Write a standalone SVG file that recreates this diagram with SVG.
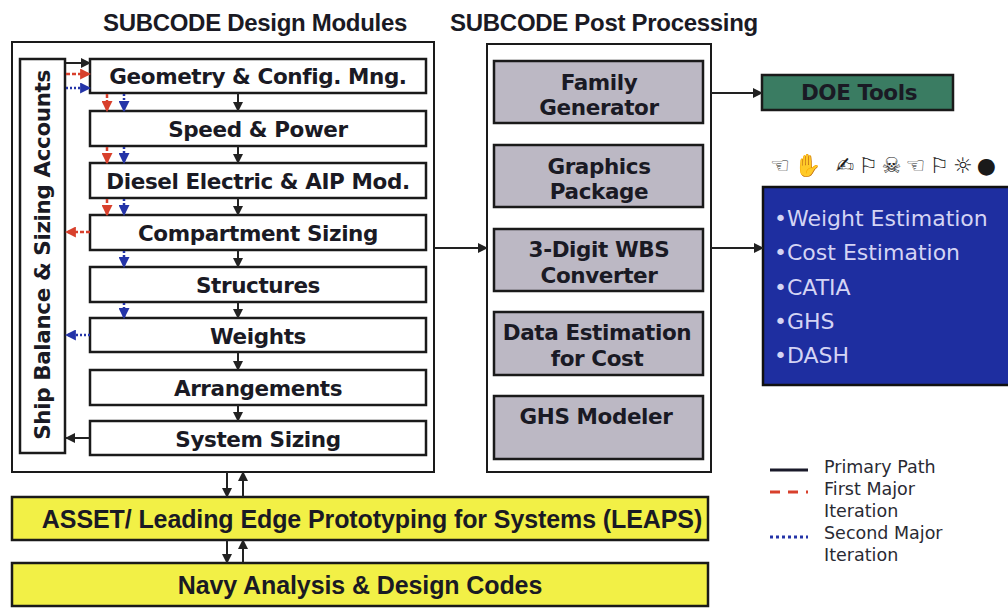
<svg xmlns="http://www.w3.org/2000/svg" width="1008" height="608" viewBox="0 0 1008 608">
<defs>
<marker id="ab" markerUnits="userSpaceOnUse" markerWidth="10" markerHeight="10" viewBox="0 0 10 10" refX="9" refY="5" orient="auto"><path d="M0,0 L10,5 L0,10 Z" fill="#222"/></marker>
<marker id="ar" markerUnits="userSpaceOnUse" markerWidth="11" markerHeight="11" viewBox="0 0 10 10" refX="9" refY="5" orient="auto"><path d="M0,0 L10,5 L0,10 Z" fill="#d8402c"/></marker>
<marker id="au" markerUnits="userSpaceOnUse" markerWidth="11" markerHeight="11" viewBox="0 0 10 10" refX="9" refY="5" orient="auto"><path d="M0,0 L10,5 L0,10 Z" fill="#2434a8"/></marker>
</defs>
<style>
.hdr{font-family:"Liberation Sans",Arial,sans-serif;font-weight:bold;font-size:24px;fill:#1a1a24;text-anchor:middle;letter-spacing:-0.3px}
.mod{fill:#fff;stroke:#1a1a1a;stroke-width:2.5}
.mt{font-family:"DejaVu Sans",Verdana,sans-serif;font-weight:bold;font-size:21.5px;fill:#1a1a24;text-anchor:middle;letter-spacing:-0.4px}
.gray{fill:#bcb8c4;stroke:#1a1a1a;stroke-width:2.5}
.frame{fill:#fff;stroke:#1a1a1a;stroke-width:2}
.yel{fill:#f2f046;stroke:#1a1a1a;stroke-width:2.5}
.yt{font-family:"Liberation Sans",Arial,sans-serif;font-weight:bold;font-size:25px;fill:#1a1a24;text-anchor:middle;letter-spacing:-0.1px}
.bl{stroke:#222;stroke-width:2;fill:none}
.rd{stroke:#d8402c;stroke-width:2.5;fill:none;stroke-dasharray:4 2}
.bu{stroke:#2434a8;stroke-width:2.5;fill:none;stroke-dasharray:2 2}
.lt{font-family:"DejaVu Sans",Verdana,sans-serif;font-size:17.5px;fill:#2a2a33}
.wt{font-family:"DejaVu Sans",Verdana,sans-serif;font-size:22px;fill:#d4d4f4}
</style>

<text class="hdr" x="255" y="31">SUBCODE Design Modules</text>
<text class="hdr" x="604" y="31">SUBCODE Post Processing</text>

<g id="design-frame"><rect class="frame" x="12" y="42" width="422" height="430"/></g>

<g id="ship-balance">
<rect class="mod" x="20" y="59" width="45" height="394"/>
<text class="mt" transform="translate(50,255) rotate(-90)">Ship Balance &amp; Sizing Accounts</text>
</g>

<g id="geometry"><rect class="mod" x="90" y="59" width="336" height="34"/><text class="mt" x="258" y="84">Geometry &amp; Config. Mng.</text></g>
<g id="speed"><rect class="mod" x="90" y="111" width="336" height="35"/><text class="mt" x="258" y="137">Speed &amp; Power</text></g>
<g id="diesel"><rect class="mod" x="90" y="163" width="336" height="35"/><text class="mt" x="258" y="189">Diesel Electric &amp; AIP Mod.</text></g>
<g id="compartment"><rect class="mod" x="90" y="215" width="336" height="35"/><text class="mt" x="258" y="241">Compartment Sizing</text></g>
<g id="structures"><rect class="mod" x="90" y="267" width="336" height="35"/><text class="mt" x="258" y="293">Structures</text></g>
<g id="weights"><rect class="mod" x="90" y="318" width="336" height="34"/><text class="mt" x="258" y="344">Weights</text></g>
<g id="arrangements"><rect class="mod" x="90" y="370" width="336" height="35"/><text class="mt" x="258" y="396">Arrangements</text></g>
<g id="system-sizing"><rect class="mod" x="90" y="421" width="336" height="34"/><text class="mt" x="258" y="447">System Sizing</text></g>

<g id="post-frame"><rect class="frame" x="487" y="44" width="224" height="428"/></g>
<g id="family"><rect class="gray" x="494" y="61" width="209" height="62"/><text class="mt" x="599" y="90">Family</text><text class="mt" x="599" y="115">Generator</text></g>
<g id="graphics"><rect class="gray" x="494" y="145" width="209" height="62"/><text class="mt" x="599" y="174">Graphics</text><text class="mt" x="599" y="199">Package</text></g>
<g id="wbs"><rect class="gray" x="494" y="229" width="209" height="62"/><text class="mt" x="599" y="257">3-Digit WBS</text><text class="mt" x="599" y="283">Converter</text></g>
<g id="data-est"><rect class="gray" x="494" y="312" width="209" height="63"/><text class="mt" x="597" y="340">Data Estimation</text><text class="mt" x="597" y="366">for Cost</text></g>
<g id="ghs"><rect class="gray" x="494" y="396" width="209" height="63"/><text class="mt" x="596" y="424">GHS Modeler</text></g>

<g id="doe"><rect x="762" y="75" width="191" height="35" fill="#3a7c62" stroke="#1a1a1a" stroke-width="2.5"/><text class="mt" x="859" y="100" fill="#14201a">DOE Tools</text></g>

<g id="tools-heading"><text x="770" y="173" font-family="DejaVu Sans,sans-serif" font-size="22" fill="#1a1a1a" letter-spacing="4">☜✋ ✍⚐☠☜⚐☼●</text></g>
<g id="tools"><rect x="763" y="187" width="247" height="198" fill="#1e2ea0" stroke="#111" stroke-width="2.5"/>
<text class="wt" x="774" y="226">•Weight Estimation</text>
<text class="wt" x="774" y="260">•Cost Estimation</text>
<text class="wt" x="774" y="295">•CATIA</text>
<text class="wt" x="774" y="329">•GHS</text>
<text class="wt" x="774" y="363">•DASH</text>
</g>

<g id="asset"><rect class="yel" x="12" y="497" width="696" height="43"/><text class="yt" x="372" y="528">ASSET/ Leading Edge Prototyping for Systems (LEAPS)</text></g>
<g id="navy"><rect class="yel" x="12" y="563" width="696" height="43"/><text class="yt" x="360" y="594">Navy Analysis &amp; Design Codes</text></g>

<g id="connectors">
<line class="bl" x1="238" y1="93" x2="238" y2="111" marker-end="url(#ab)"/>
<line class="bl" x1="238" y1="146" x2="238" y2="163" marker-end="url(#ab)"/>
<line class="bl" x1="238" y1="198" x2="238" y2="215" marker-end="url(#ab)"/>
<line class="bl" x1="238" y1="250" x2="238" y2="267" marker-end="url(#ab)"/>
<line class="bl" x1="238" y1="302" x2="238" y2="318" marker-end="url(#ab)"/>
<line class="bl" x1="238" y1="352" x2="238" y2="370" marker-end="url(#ab)"/>
<line class="bl" x1="238" y1="405" x2="238" y2="421" marker-end="url(#ab)"/>

<line class="rd" x1="107" y1="94" x2="107" y2="111" marker-end="url(#ar)"/>
<line class="rd" x1="107" y1="147" x2="107" y2="163" marker-end="url(#ar)"/>
<line class="rd" x1="107" y1="199" x2="107" y2="215" marker-end="url(#ar)"/>
<line class="bu" x1="124" y1="94" x2="124" y2="111" marker-end="url(#au)"/>
<line class="bu" x1="124" y1="147" x2="124" y2="163" marker-end="url(#au)"/>
<line class="bu" x1="124" y1="199" x2="124" y2="215" marker-end="url(#au)"/>
<line class="bu" x1="124" y1="251" x2="124" y2="267" marker-end="url(#au)"/>
<line class="bu" x1="124" y1="303" x2="124" y2="318" marker-end="url(#au)"/>

<line class="bl" x1="66" y1="63" x2="90" y2="63" marker-end="url(#ab)"/>
<line class="rd" x1="66" y1="74" x2="90" y2="74" marker-end="url(#ar)"/>
<line class="bu" x1="66" y1="88" x2="90" y2="88" marker-end="url(#au)"/>
<line class="rd" x1="90" y1="232" x2="66" y2="232" marker-end="url(#ar)"/>
<line class="bu" x1="90" y1="335" x2="66" y2="335" marker-end="url(#au)"/>
<line class="bl" x1="90" y1="438" x2="66" y2="438" marker-end="url(#ab)"/>

<line class="bl" x1="434" y1="248" x2="487" y2="248" marker-end="url(#ab)"/>
<line class="bl" x1="711" y1="248" x2="763" y2="248" marker-end="url(#ab)"/>
<line class="bl" x1="711" y1="93" x2="762" y2="93" marker-end="url(#ab)"/>

<line class="bl" x1="227" y1="472" x2="227" y2="497" marker-end="url(#ab)"/>
<line class="bl" x1="243" y1="497" x2="243" y2="472" marker-end="url(#ab)"/>
<line class="bl" x1="227" y1="540" x2="227" y2="563" marker-end="url(#ab)"/>
<line class="bl" x1="243" y1="563" x2="243" y2="540" marker-end="url(#ab)"/>
</g>

<g id="legend">
<line x1="770" y1="470" x2="808" y2="470" stroke="#1a1a2a" stroke-width="3"/>
<line x1="770" y1="492" x2="808" y2="492" stroke="#d8402c" stroke-width="3" stroke-dasharray="10 8"/>
<line x1="770" y1="537" x2="808" y2="537" stroke="#2434a8" stroke-width="3" stroke-dasharray="3 3"/>
<text class="lt" x="824" y="473">Primary Path</text>
<text class="lt" x="824" y="495">First Major</text>
<text class="lt" x="824" y="517">Iteration</text>
<text class="lt" x="824" y="539">Second Major</text>
<text class="lt" x="824" y="561">Iteration</text>
</g>
</svg>
